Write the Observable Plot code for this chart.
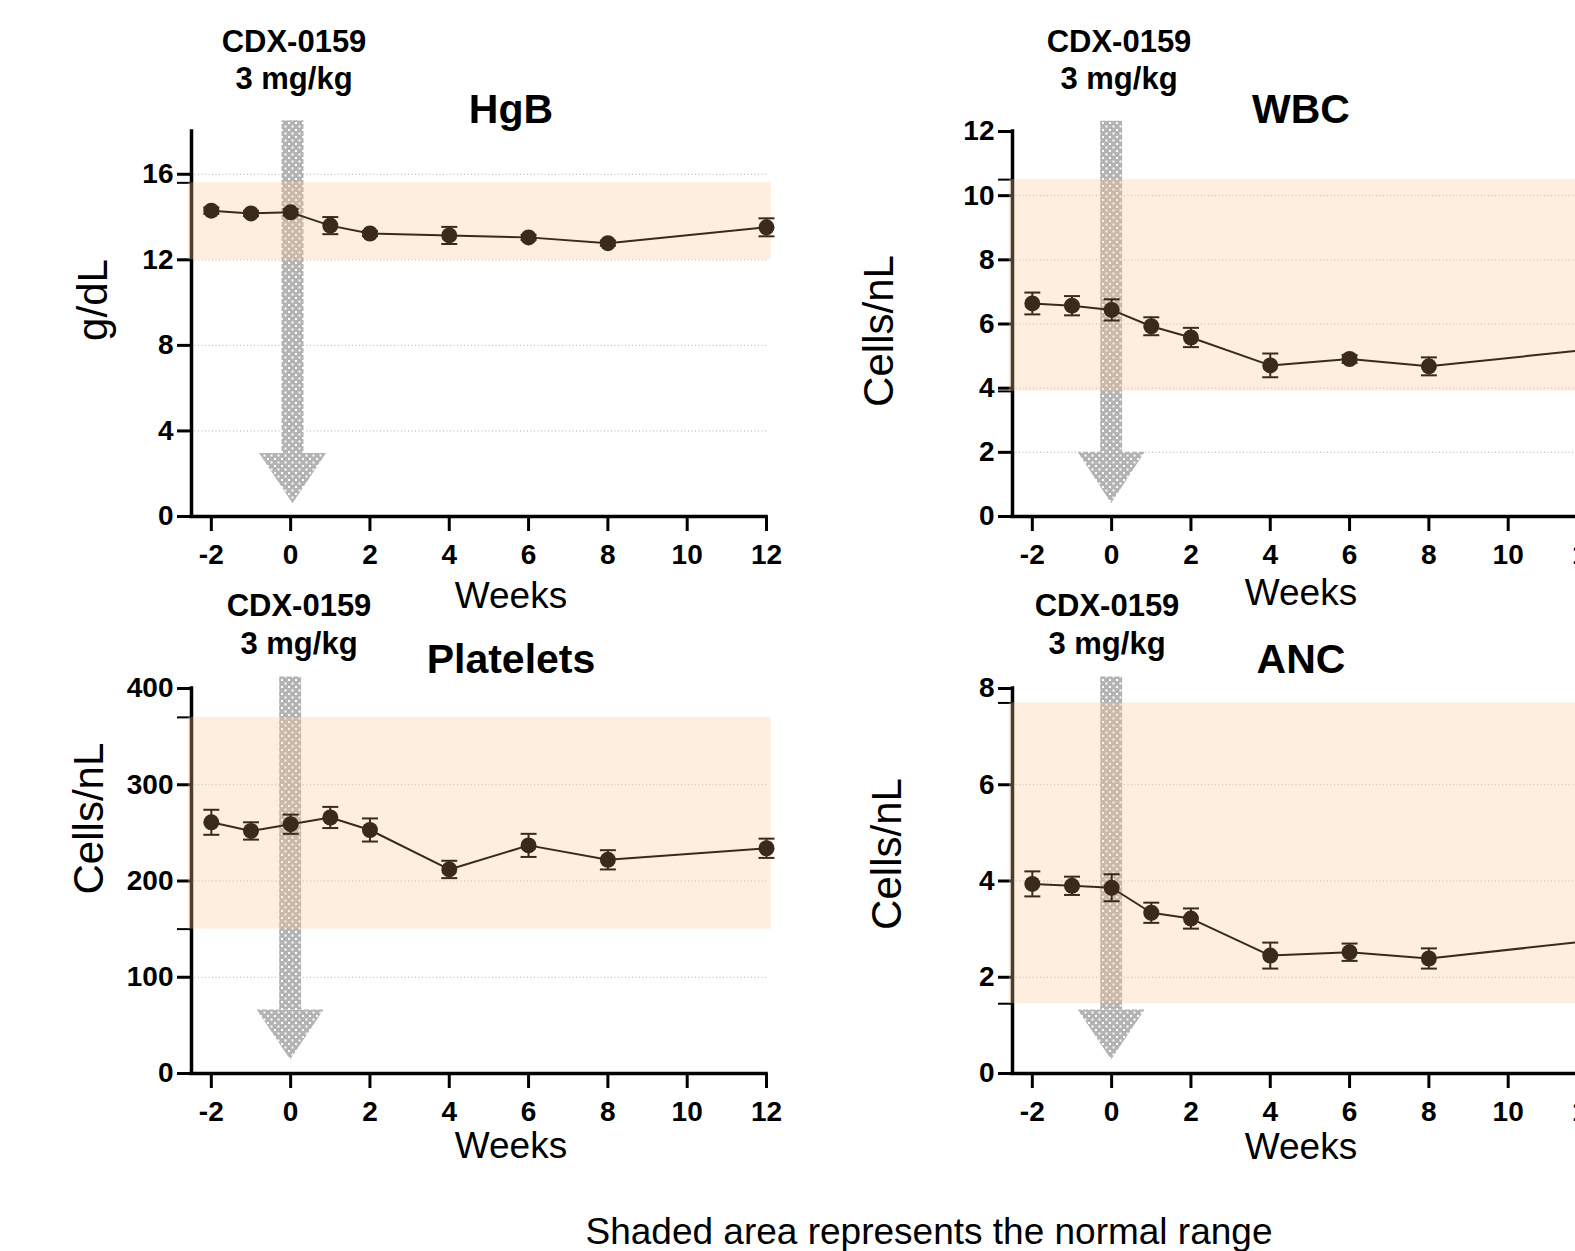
<!DOCTYPE html>
<html>
<head>
<meta charset="utf-8">
<script src="https://cdn.jsdelivr.net/npm/d3@7"></script>
<script src="https://cdn.jsdelivr.net/npm/@observablehq/plot@0.6"></script>
<style>
  html, body { margin: 0; padding: 0; background: #fff; overflow: hidden; }
  #root { position: relative; width: 1575px; height: 1251px; overflow: hidden; background: #fff; }
</style>
</head>
<body>
<div id="root"></div>
<script>
// ---------- data ----------
const weeks = [-2, -1, 0, 1, 2, 4, 6, 8, 12];
const xTicks = [-2, 0, 2, 4, 6, 8, 10, 12];

const hgbMean = [14.30, 14.17, 14.22, 13.60, 13.23, 13.14, 13.05, 12.78, 13.52];
const hgbErr  = [0.15, 0.12, 0.15, 0.40, 0.12, 0.40, 0.12, 0.12, 0.42];
const hgbTicks = [0, 4, 8, 12, 16];
const hgbRange = [12, 15.6];

const wbcMean = [6.64, 6.57, 6.44, 5.93, 5.58, 4.71, 4.91, 4.68, 5.20];
const wbcErr  = [0.34, 0.30, 0.33, 0.28, 0.30, 0.37, 0.12, 0.28, 0.30];
const wbcTicks = [0, 2, 4, 6, 8, 10, 12];
const wbcRange = [3.9, 10.5];

const pltMean = [261, 252, 259, 266, 253, 212, 237, 222, 234];
const pltErr  = [13, 9, 10, 11, 12, 9, 12, 10, 10];
const pltTicks = [0, 100, 200, 300, 400];
const pltRange = [150, 370];

const ancMean = [3.94, 3.90, 3.86, 3.34, 3.22, 2.45, 2.52, 2.39, 2.75];
const ancErr  = [0.26, 0.19, 0.28, 0.21, 0.21, 0.27, 0.18, 0.21, 0.25];
const ancTicks = [0, 2, 4, 6, 8];
const ancRange = [1.45, 7.7];

const panelTitles = ["HgB", "WBC", "Platelets", "ANC"];
const yLabels = ["g/dL", "Cells/nL", "Cells/nL", "Cells/nL"];
const xLabel = "Weeks";
const doseLines = ["CDX-0159", "3 mg/kg"];
const captionText = "Shaded area represents the normal range";

// ---------- style / layout ----------
const FONT = "'Liberation Sans', Arial, Helvetica, sans-serif";
const INK = "#3b2a1c";

const panels = [
  { id: "hgb", mean: hgbMean, err: hgbErr, ticks: hgbTicks, range: hgbRange, domain: [0, 18],
    left: 0, top: 100, arrow: { x: 0.06, top: 18.5, headTop: 2.95, tip: 0.6 },
    title: [511, 122.5], dose: [294, 52.2, 89.4], ylab: [107, 300], xlab: [511, 608] },
  { id: "wbc", mean: wbcMean, err: wbcErr, ticks: wbcTicks, range: wbcRange, domain: [0, 12],
    left: 821, top: 100, arrow: { x: 0, top: 12.32, headTop: 2.0, tip: 0.4 },
    title: [1301, 122.5], dose: [1119, 52.2, 89.4], ylab: [893, 331], xlab: [1301, 605] },
  { id: "plt", mean: pltMean, err: pltErr, ticks: pltTicks, range: pltRange, domain: [0, 400],
    left: 0, top: 657, arrow: { x: 0, top: 412, headTop: 66, tip: 14 },
    title: [511, 673], dose: [299, 615.7, 654], ylab: [102.7, 818.6], xlab: [511, 1158] },
  { id: "anc", mean: ancMean, err: ancErr, ticks: ancTicks, range: ancRange, domain: [0, 8],
    left: 821, top: 657, arrow: { x: 0, top: 8.24, headTop: 1.32, tip: 0.28 },
    title: [1301, 673], dose: [1107, 615.7, 654], ylab: [901, 854], xlab: [1301, 1159] }
];

const capSymbol = {
  draw(context) { context.moveTo(-8, 0); context.lineTo(8, 0); }
};

const root = document.getElementById("root");
const NS = "http://www.w3.org/2000/svg";

panels.forEach((p, k) => {
  const rows = weeks.map((w, i) => ({ week: w, mean: p.mean[i], lo: p.mean[i] - p.err[i], hi: p.mean[i] + p.err[i] }));
  const a = p.arrow;
  const head = [
    { x: a.x - 0.845, y: a.headTop },
    { x: a.x, y: a.tip },
    { x: a.x + 0.845, y: a.headTop }
  ];
  const ymax = p.domain[1];
  const patId = "dots-" + p.id;

  const svg = Plot.plot({
    width: 800,
    height: 486,
    marginLeft: 191,
    marginRight: 34,
    marginTop: 31,
    marginBottom: 70,
    x: { domain: [-2.5, 12] },
    y: { domain: p.domain },
    style: { fontFamily: FONT, fontWeight: "bold", background: "transparent", overflow: "visible", color: "black" },
    marks: [
      Plot.gridY(p.ticks.filter(v => v > 0 && v < ymax), { stroke: "#a8a8a8", strokeOpacity: 0.9, strokeDasharray: "1,2.5", strokeWidth: 1 }),
      Plot.ruleX([-2.5], { y1: 0, y2: ymax, stroke: "black", strokeWidth: 3.5, strokeLinecap: "square" }),
      Plot.ruleY([0], { x1: -2.5, x2: 12, stroke: "black", strokeWidth: 3.5, strokeLinecap: "square" }),
      Plot.axisY({ ticks: p.ticks, tickSize: 14, tickPadding: 4, strokeWidth: 3, fontSize: 28, tickFormat: d => String(d), label: null }),
      Plot.axisY({ ticks: p.range, tickSize: 14, tickPadding: 4, strokeWidth: 2, fontSize: 28, tickFormat: () => "", label: null }),
      Plot.axisX({ ticks: xTicks, tickSize: 15, tickPadding: 13, strokeWidth: 3, fontSize: 28, tickFormat: d => String(d), label: null }),
      // treatment arrow
      Plot.rect([0], { x1: a.x - 0.277, x2: a.x + 0.277, y1: a.headTop, y2: a.top, fill: `url(#${patId})` }),
      Plot.areaY(head, { x: "x", y1: a.headTop, y2: "y", fill: `url(#${patId})`, curve: "linear" }),
      // normal range band
      Plot.rect([0], { x1: -2.58, x2: 12.12, y1: p.range[0], y2: p.range[1], fill: "#f8c698", fillOpacity: 0.3 }),
      // data
      Plot.line(rows, { x: "week", y: "mean", stroke: INK, strokeWidth: 2 }),
      Plot.ruleX(rows, { x: "week", y1: "lo", y2: "hi", stroke: INK, strokeWidth: 2 }),
      Plot.dot(rows, { x: "week", y: "hi", symbol: capSymbol, r: 8, fill: "none", stroke: INK, strokeWidth: 2 }),
      Plot.dot(rows, { x: "week", y: "lo", symbol: capSymbol, r: 8, fill: "none", stroke: INK, strokeWidth: 2 }),
      Plot.dot(rows, { x: "week", y: "mean", r: 8, fill: INK, stroke: "none" })
    ]
  });

  const defs = document.createElementNS(NS, "defs");
  defs.innerHTML =
    `<pattern id="${patId}" width="7" height="7" patternUnits="userSpaceOnUse">` +
    `<rect width="7" height="7" fill="#b3b3b3"/>` +
    `<rect x="1" y="1" width="2" height="2" fill="#ffffff"/>` +
    `<rect x="4.5" y="4.5" width="2" height="2" fill="#ffffff"/>` +
    `</pattern>`;
  svg.insertBefore(defs, svg.firstChild);

  svg.style.position = "absolute";
  svg.style.left = p.left + "px";
  svg.style.top = p.top + "px";
  root.appendChild(svg);
});

// ---------- text overlay ----------
const overlay = d3.create("svg")
  .attr("width", 1575).attr("height", 1251)
  .style("position", "absolute").style("left", "0px").style("top", "0px")
  .style("pointer-events", "none")
  .style("font-family", FONT);

panels.forEach((p, k) => {
  overlay.append("text").attr("x", p.title[0]).attr("y", p.title[1])
    .attr("text-anchor", "middle").attr("font-size", 41).attr("font-weight", "bold").text(panelTitles[k]);
  overlay.append("text").attr("x", p.dose[0]).attr("y", p.dose[1])
    .attr("text-anchor", "middle").attr("font-size", 31).attr("font-weight", "bold").text(doseLines[0]);
  overlay.append("text").attr("x", p.dose[0]).attr("y", p.dose[2])
    .attr("text-anchor", "middle").attr("font-size", 31).attr("font-weight", "bold").text(doseLines[1]);
  overlay.append("text")
    .attr("transform", `translate(${p.ylab[0]},${p.ylab[1]}) rotate(-90)`)
    .attr("text-anchor", "middle").attr("font-size", 42).text(yLabels[k]);
  overlay.append("text").attr("x", p.xlab[0]).attr("y", p.xlab[1])
    .attr("text-anchor", "middle").attr("font-size", 37).text(xLabel);
});

overlay.append("text").attr("x", 929).attr("y", 1244)
  .attr("text-anchor", "middle").attr("font-size", 37).text(captionText);

root.appendChild(overlay.node());
</script>
</body>
</html>
